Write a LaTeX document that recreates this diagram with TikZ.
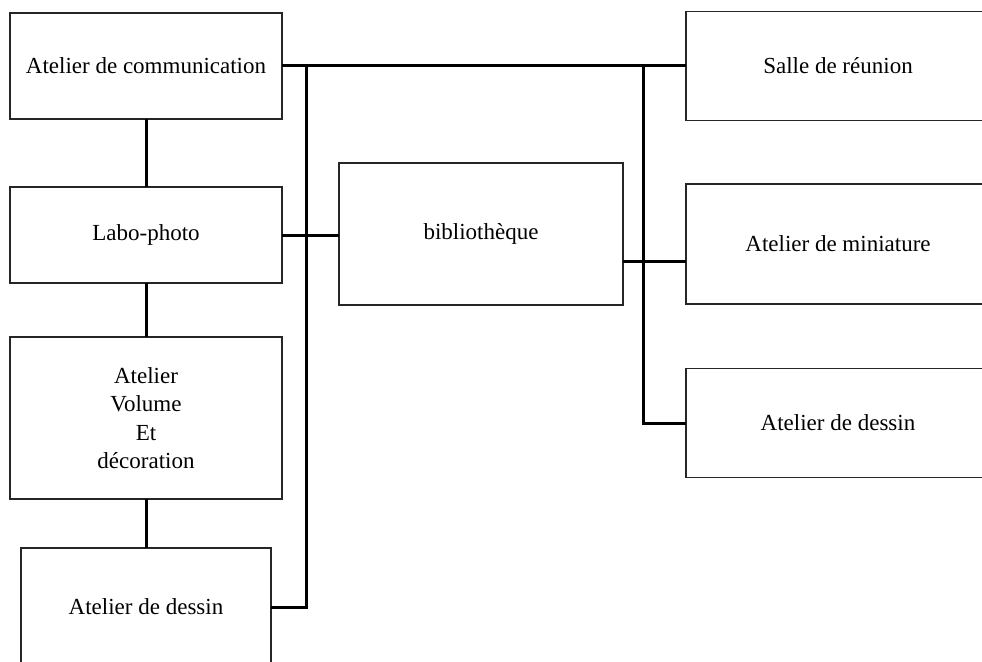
\documentclass[tikz,border=0pt]{standalone}
\usepackage{fontspec}
\setmainfont{Liberation Serif}
\begin{document}
\begin{tikzpicture}[x=1pt,y=-1pt,
  box/.style={draw=black!85,line width=1.6pt,fill=white,inner sep=0pt,outer sep=0pt,
    align=center,font=\fontsize{23}{28.5}\selectfont},
  conn/.style={draw=black,line width=3pt}]
\path[use as bounding box,clip] (0,0) rectangle (982,661);
\fill[white] (0,0) rectangle (982,661);
% left column
\node[box,minimum width=272pt,minimum height=106pt] (comm) at (146,66) {Atelier de communication};
\node[box,minimum width=272pt,minimum height=96pt] (labo) at (146,235) {Labo-photo};
\node[box,minimum width=272pt,minimum height=162pt] (vol) at (146,418) {Atelier\\Volume\\Et\\décoration};
\node[box,minimum width=250pt,minimum height=118pt] (dessinL) at (146,607) {Atelier de dessin};
% middle
\node[box,minimum width=284pt,minimum height=142pt] (biblio) at (481,234) {bibliothèque};
% right column
\node[box,minimum width=304pt,minimum height=109pt] (salle) at (838,66) {Salle de réunion};
\node[box,minimum width=304pt,minimum height=120pt] (mini) at (838,244) {Atelier de miniature};
\node[box,minimum width=304pt,minimum height=109pt] (dessinR) at (838,423) {Atelier de dessin};
% bus coordinates
\coordinate (bl1) at (306,66);
\coordinate (bl2) at (306,607);
\coordinate (br1) at (643,66);
\coordinate (br2) at (643,423);
% connectors
\draw[conn] (comm.south) -- (labo.north);
\draw[conn] (labo.south) -- (vol.north);
\draw[conn] (vol.south) -- (dessinL.north);
\draw[conn] (comm.east) -- (salle.west);
\draw[conn] (bl1) -- (bl2) -- (dessinL.east);
\draw[conn] (labo.east) -- (labo.east -| biblio.west);
\draw[conn] (br1) -- (br2) -- (dessinR.west);
\draw[conn] ([yshift=-27pt]biblio.east) -- ([yshift=-17pt]mini.west);
\end{tikzpicture}
\end{document}
